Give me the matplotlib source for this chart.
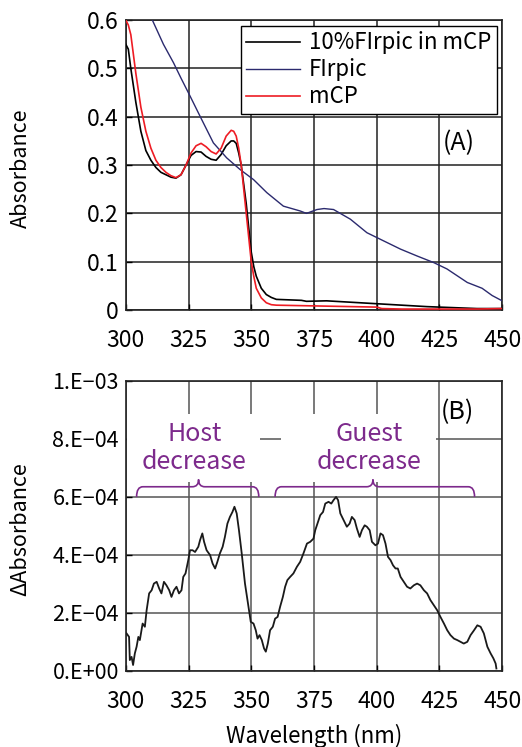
import numpy as np
import matplotlib
matplotlib.use("Agg")
import matplotlib.pyplot as plt
from matplotlib.path import Path
from matplotlib.patches import PathPatch, Rectangle

plt.rcParams['font.family'] = ['Noto Sans CJK JP', 'DejaVu Sans']

# ---- Panel A data ----
wl_blend = [300, 301, 302, 304, 306, 308, 310, 312, 314, 316, 318, 320, 322, 324, 326, 328, 330, 332, 334, 336, 338, 340, 342, 343, 344, 345, 346, 347, 348, 349, 350, 351, 352, 354, 356, 358, 360, 365, 370, 372, 380, 390, 400, 410, 420, 430, 440, 450]
abs_blend = [0.55, 0.54, 0.50, 0.43, 0.37, 0.33, 0.31, 0.295, 0.285, 0.28, 0.275, 0.273, 0.28, 0.30, 0.32, 0.328, 0.327, 0.318, 0.312, 0.31, 0.322, 0.34, 0.35, 0.35, 0.345, 0.325, 0.30, 0.26, 0.22, 0.17, 0.12, 0.09, 0.07, 0.045, 0.032, 0.026, 0.022, 0.021, 0.02, 0.018, 0.019, 0.016, 0.013, 0.01, 0.007, 0.005, 0.003, 0.003]

wl_firpic = [300, 305, 310.6, 315, 319, 322, 325.6, 329.6, 334.9, 340.2, 345.5, 350.9, 356.2, 362.8, 369.5, 372, 376.2, 379, 382.8, 389.5, 396.1, 402, 409.5, 416, 422.8, 428, 436.1, 442, 446, 450]
abs_firpic = [0.75, 0.67, 0.60, 0.55, 0.512, 0.48, 0.443, 0.401, 0.346, 0.315, 0.291, 0.27, 0.243, 0.215, 0.205, 0.200, 0.208, 0.21, 0.208, 0.188, 0.16, 0.145, 0.126, 0.112, 0.098, 0.085, 0.057, 0.045, 0.03, 0.019]

wl_mcp = [300, 301, 302, 304, 306, 308, 310, 312, 314, 316, 318, 320, 322, 324, 326, 328, 330, 332, 334, 336, 338, 340, 342, 343, 344, 345, 346, 347, 348, 349, 350, 351, 352, 354, 356, 358, 360, 370, 380, 390, 400, 402, 410, 420, 430, 440, 450]
abs_mcp = [0.60, 0.59, 0.57, 0.49, 0.42, 0.37, 0.335, 0.31, 0.295, 0.285, 0.278, 0.274, 0.28, 0.30, 0.325, 0.34, 0.345, 0.338, 0.328, 0.323, 0.335, 0.36, 0.372, 0.37, 0.36, 0.335, 0.30, 0.25, 0.20, 0.15, 0.10, 0.07, 0.045, 0.025, 0.015, 0.011, 0.01, 0.009, 0.008, 0.007, 0.006, 0.003, 0.002, 0.002, 0.002, 0.002, 0.003]

# ---- Panel B data ----
wl_diff = [300.3, 301.3, 301.6, 302.3, 302.9, 303.6, 304.3, 305.0, 305.6, 306.7, 307.6, 308.3, 309.3, 310.3, 311.2, 312.3, 313.3, 314.2, 315.2, 316.2, 317.3, 318.2, 319.2, 320.2, 321.2, 322.2, 322.9, 323.8, 324.9, 325.6, 326.6, 327.6, 328.9, 329.6, 330.5, 331.2, 332.2, 333.6, 334.6, 335.6, 336.5, 337.5, 338.6, 339.5, 340.5, 341.5, 342.5, 343.3, 344.2, 345.1, 346.2, 347.5, 348.9, 349.8, 350.9, 351.8, 352.5, 353.3, 354.2, 355.1, 355.8, 356.6, 357.5, 358.6, 359.5, 360.5, 361.5, 362.6, 363.5, 364.4, 365.5, 366.8, 368.2, 369.5, 370.8, 372.2, 373.5, 374.8, 375.5, 376.4, 377.5, 378.6, 379.5, 380.8, 381.9, 382.8, 383.8, 384.6, 385.5, 386.8, 388.1, 389.2, 390.1, 391.2, 392.1, 393.2, 394.1, 395.2, 396.1, 397.2, 398.1, 399.5, 400.5, 401.5, 402.5, 403.5, 404.5, 405.5, 406.5, 407.5, 408.4, 409.5, 410.8, 412.1, 413.4, 414.8, 416.1, 417.4, 418.8, 420.1, 421.4, 422.8, 424.1, 425.4, 426.8, 428.1, 429.4, 430.8, 432.1, 433.4, 434.7, 436.1, 437.4, 438.8, 440.1, 441.4, 442.7, 444.1, 445.4, 446.5, 447.4, 447.7]
dabs = [1.29, 1.17, 0.37, 0.48, 0.20, 0.60, 0.83, 1.17, 1.06, 1.63, 1.52, 2.09, 2.67, 2.78, 3.01, 3.07, 2.84, 2.67, 3.07, 2.95, 2.78, 2.55, 2.78, 2.90, 2.67, 2.78, 3.24, 3.36, 3.82, 4.16, 4.16, 4.10, 4.28, 4.51, 4.74, 4.45, 4.16, 3.99, 3.70, 3.53, 3.76, 4.05, 4.28, 4.62, 5.08, 5.31, 5.48, 5.66, 5.43, 4.85, 4.05, 3.01, 2.21, 1.69, 1.63, 1.40, 1.11, 1.23, 1.06, 0.77, 0.66, 0.94, 1.40, 1.52, 1.80, 1.86, 2.21, 2.55, 2.90, 3.13, 3.24, 3.36, 3.59, 3.76, 4.05, 4.39, 4.45, 4.56, 4.85, 5.08, 5.37, 5.48, 5.77, 5.83, 5.77, 5.89, 6.00, 5.89, 5.43, 5.20, 4.97, 5.08, 5.31, 5.20, 4.91, 4.62, 4.85, 5.02, 4.97, 4.85, 4.45, 4.33, 4.39, 4.74, 4.68, 4.39, 3.93, 3.82, 3.64, 3.53, 3.53, 3.24, 3.07, 2.90, 2.84, 2.95, 3.01, 2.95, 2.78, 2.67, 2.44, 2.26, 2.09, 1.86, 1.63, 1.40, 1.23, 1.11, 1.06, 1.00, 0.94, 1.00, 1.23, 1.40, 1.57, 1.52, 1.29, 0.83, 0.60, 0.43, 0.25, 0.08]
dabs = [v * 1e-4 for v in dabs]

xticks = [300, 325, 350, 375, 400, 425, 450]
yticks_a = [0, 0.1, 0.2, 0.3, 0.4, 0.5, 0.6]
ytick_labels_a = ['0', '0.1', '0.2', '0.3', '0.4', '0.5', '0.6']
yticks_b = [0, 2e-4, 4e-4, 6e-4, 8e-4, 1e-3]
ytick_labels_b = ['0.E+00', '2.E\u221204', '4.E\u221204', '6.E\u221204', '8.E\u221204', '1.E\u221203']

purple = '#7d2a8c'
fs = 16.5

fig = plt.figure(figsize=(5.22, 7.47), dpi=100)
axA = fig.add_axes([0.241, 0.585, 0.721, 0.388])
axB = fig.add_axes([0.241, 0.102, 0.721, 0.388])

for ax, gc in ((axA, '#222222'), (axB, '#555555')):
    ax.set_xlim(300, 450)
    ax.set_xticks(xticks)
    ax.set_xticklabels([str(t) for t in xticks], fontsize=fs)
    ax.grid(True, color=gc, linewidth=1.1)
    ax.set_axisbelow(True)
    ax.tick_params(direction='in', length=4, width=1)
    ax.tick_params(axis='x', pad=14)
    ax.tick_params(axis='y', pad=5)
    for s in ax.spines.values():
        s.set_linewidth(1.2)
        s.set_color('#222222')

# Panel A
axA.plot(wl_blend, abs_blend, color='black', lw=1.2, label='10%FIrpic in mCP', zorder=3)
axA.plot(wl_firpic, abs_firpic, color='#2b2a6e', lw=1.0, label='FIrpic', zorder=3)
axA.plot(wl_mcp, abs_mcp, color='#ee1c24', lw=1.2, label='mCP', zorder=4)
axA.set_ylim(0, 0.6)
axA.set_yticks(yticks_a)
axA.set_yticklabels(ytick_labels_a, fontsize=fs)
axA.set_ylabel('Absorbance', fontsize=15.5)
axA.yaxis.set_label_coords(-0.25, 0.49)
leg = axA.legend(loc='upper right', fontsize=16, frameon=True, fancybox=False,
                 borderpad=0.25, labelspacing=0.18, handlelength=2.4, handletextpad=0.4,
                 borderaxespad=0.25)
leg.get_frame().set_edgecolor('black')
leg.get_frame().set_linewidth(1.0)
leg.get_frame().set_alpha(1)
axA.text(432.7, 0.345, '(A)', fontsize=18, ha='center', va='center')

# Panel B
axB.plot(wl_diff, dabs, color='#1a1a1a', lw=1.3, zorder=3)
axB.set_ylim(0, 1e-3)
axB.set_yticks(yticks_b)
axB.set_yticklabels(ytick_labels_b, fontsize=15.5)
axB.set_ylabel('\u0394Absorbance', fontsize=15.5)
axB.yaxis.set_label_coords(-0.25, 0.49)
axB.set_xlabel('Wavelength (nm)', fontsize=16, labelpad=8)
axB.text(432, 8.93e-4, '(B)', fontsize=18, ha='center', va='center')

# white boxes behind annotations
for (x0, x1) in [(300.5, 353.5), (362, 423.5)]:
    axB.add_patch(Rectangle((x0, 6.5e-4), x1 - x0, 2.35e-4, facecolor='white',
                            edgecolor='none', zorder=1.5))

axB.text(327.3, 8.18e-4, 'Host', color=purple, fontsize=18, ha='center', va='center', zorder=4)
axB.text(327.3, 7.2e-4, 'decrease', color=purple, fontsize=18, ha='center', va='center', zorder=4)
axB.text(397.1, 8.18e-4, 'Guest', color=purple, fontsize=18, ha='center', va='center', zorder=4)
axB.text(397.1, 7.2e-4, 'decrease', color=purple, fontsize=18, ha='center', va='center', zorder=4)


def brace(ax, x0, xm, x1, y0, y1, y2):
    r = 2.5
    verts = [(x0, y0), (x0, y1), (x0 + r, y1),
             (xm - r, y1), (xm, y1), (xm, y2),
             (xm, y1), (xm + r, y1),
             (x1 - r, y1), (x1, y1), (x1, y0)]
    codes = [Path.MOVETO, Path.CURVE3, Path.CURVE3,
             Path.LINETO, Path.CURVE3, Path.CURVE3,
             Path.CURVE3, Path.CURVE3,
             Path.LINETO, Path.CURVE3, Path.CURVE3]
    ax.add_patch(PathPatch(Path(verts, codes), facecolor='none', edgecolor=purple,
                           lw=1.2, zorder=4, clip_on=False))

brace(axB, 304.3, 329.0, 353.0, 6.0e-4, 6.35e-4, 6.6e-4)
brace(axB, 359.5, 398.5, 439.0, 6.0e-4, 6.35e-4, 6.6e-4)

fig.savefig('out.png', dpi=100)
